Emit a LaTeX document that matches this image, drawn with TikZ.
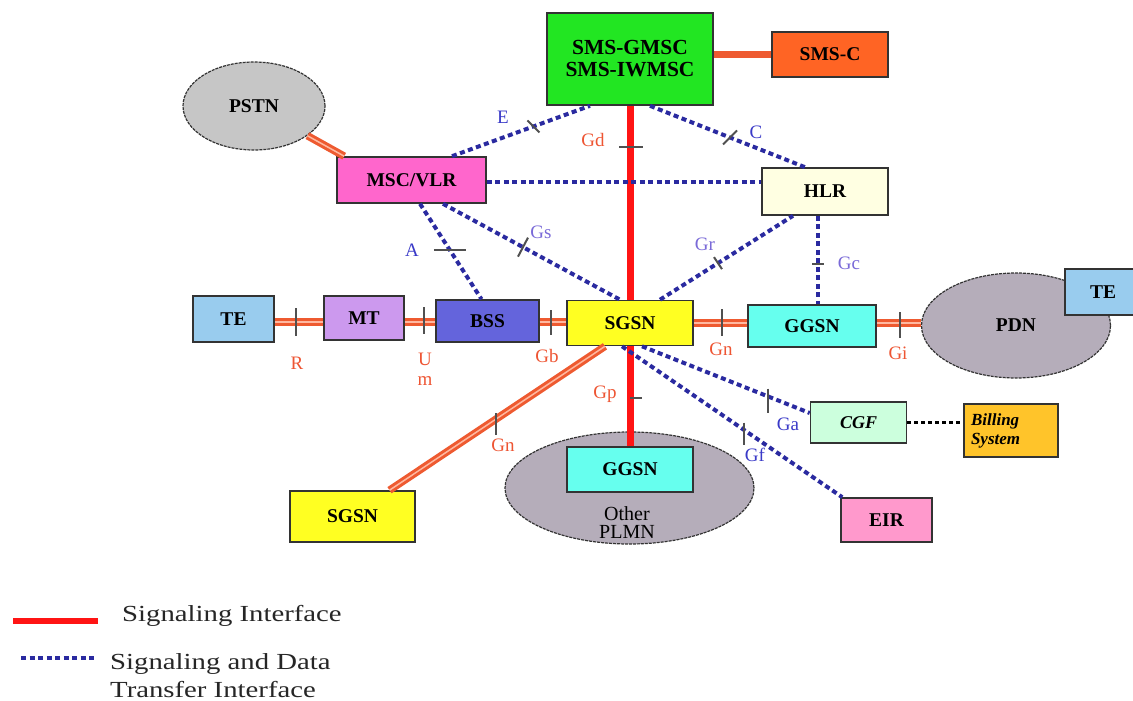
\documentclass[tikz,border=0pt]{standalone}
\usepackage{fontspec}
\setmainfont{Liberation Serif}
\newfontfamily\legendfont[FakeStretch=1.25]{Liberation Serif}
\usetikzlibrary{shapes.geometric,calc}

% fills
\definecolor{cGmsc}{HTML}{22E622}
\definecolor{cSmsc}{HTML}{FF6424}
\definecolor{cPstn}{HTML}{C6C6C6}
\definecolor{cMsc}{HTML}{FF66CC}
\definecolor{cHlr}{HTML}{FFFFE2}
\definecolor{cTe}{HTML}{99CCEE}
\definecolor{cMt}{HTML}{CC99EE}
\definecolor{cBss}{HTML}{6464DC}
\definecolor{cSgsn}{HTML}{FFFF22}
\definecolor{cGgsn}{HTML}{66FFEE}
\definecolor{cNet}{HTML}{B5ADBA}
\definecolor{cCgf}{HTML}{CCFFDD}
\definecolor{cBill}{HTML}{FFC42A}
\definecolor{cEir}{HTML}{FF99CC}
% lines and labels
\definecolor{boxline}{HTML}{333333}
\definecolor{sigor}{HTML}{EE5A30}
\definecolor{sigin}{HTML}{FFB8A0}
\definecolor{sigred}{HTML}{FF1414}
\definecolor{datablue}{HTML}{2A2AA0}
\definecolor{labred}{HTML}{EE5533}
\definecolor{labblue}{HTML}{3A3AC8}
\definecolor{labviolet}{HTML}{7A6AD8}
\definecolor{tickgray}{HTML}{505050}

\tikzset{
  box/.style 2 args={draw=boxline, line width=1.6pt, rectangle,
    minimum width=#1pt, minimum height=#2pt, inner sep=0pt,
    font=\bfseries\fontsize{19.5}{21}\selectfont},
  cloud/.style 2 args={ellipse, draw=boxline, line width=1.2pt,
    dash pattern=on 3pt off 1pt, fill=cNet,
    minimum width=#1pt, minimum height=#2pt, inner sep=0pt,
    font=\bfseries\fontsize{19.5}{21}\selectfont},
  sig/.style={draw=sigor, line width=3pt, double=sigin, double distance=1.5pt},
  smsline/.style={draw=sigor, line width=7pt},
  redsig/.style={draw=sigred, line width=7pt},
  data/.style={draw=datablue, line width=4pt, dash pattern=on 5pt off 3.5pt},
  blackdots/.style={draw=black, line width=2.5pt, dash pattern=on 4pt off 3pt},
  tickline/.style={draw=tickgray, line width=2pt},
  lab/.style={font=\fontsize{19}{21}\selectfont, inner sep=0pt},
  legend/.style={font=\legendfont\fontsize{23}{28}\selectfont, inner sep=0pt,
    anchor=west, align=left, text=black!85},
}

\begin{document}
\begin{tikzpicture}[x=1pt,y=-1pt]
\useasboundingbox (0,0) rectangle (1133,701);
\clip (0,0) rectangle (1133,701);
\fill[white] (0,0) rectangle (1133,701);

% ---- clouds
\node[cloud={142}{88}, fill=cPstn] (pstn) at (254,106) {PSTN};
\node[cloud={189}{105}] (pdn) at (1016,325.5) {PDN};
\node[cloud={249}{112}] (plmn) at (629.5,488) {};
\node[font=\fontsize{20}{18}\selectfont, align=center, inner sep=0pt]
  (plmntext) at (627,523) {Other\\PLMN};

% ---- boxes
\node[box={166}{92}, fill=cGmsc, align=center,
      font=\bfseries\fontsize{21.5}{22}\selectfont] (gmsc) at (630,59)
  {SMS-GMSC\\SMS-IWMSC};
\node[box={116}{45}, fill=cSmsc] (smsc) at (830,54.5) {SMS-C};
\node[box={149}{46}, fill=cMsc] (msc) at (411.5,180) {MSC/VLR};
\node[box={126}{47}, fill=cHlr] (hlr) at (825,191.5) {HLR};
\node[box={81}{46}, fill=cTe] (te1) at (233.5,319) {TE};
\node[box={80}{44}, fill=cMt] (mt) at (364,318) {MT};
\node[box={103}{42}, fill=cBss] (bss) at (487.5,321) {BSS};
\node[box={126}{45}, fill=cSgsn] (sgsn) at (630,323) {SGSN};
\node[box={128}{42}, fill=cGgsn] (ggsn) at (812,326) {GGSN};
\node[box={76}{46}, fill=cTe] (te2) at (1103,292) {TE};
\node[box={96}{41}, fill=cCgf, font=\bfseries\itshape\fontsize{18}{20}\selectfont]
  (cgf) at (858.5,422.5) {CGF};
\node[box={94}{53}, fill=cBill, line width=2pt, draw=black!80,
      text width=80pt, align=left,
      font=\bfseries\itshape\fontsize{17}{19}\selectfont]
  (bill) at (1011,430.5) {Billing\\System};
\node[box={91}{44}, fill=cEir] (eir) at (886.5,520) {EIR};
\node[box={126}{45}, fill=cGgsn] (ggsn2) at (630,469.5) {GGSN};
\node[box={125}{51}, fill=cSgsn] (sgsn2) at (352.5,516.5) {SGSN};

% ---- signaling interfaces
\draw[smsline] (smsc.west -| gmsc.east) -- (smsc.west);
\draw[sig] (pstn) -- ([xshift=8pt]msc.north west);
\draw[redsig] (gmsc.south) -- coordinate[pos=0.215] (tGd) (sgsn.north);
\draw[redsig] (sgsn.south) -- coordinate[pos=0.517] (tGp) (ggsn2.north);
\draw[sig] ([yshift=-3pt]te1.east) -- coordinate[pos=0.43] (tR)
  ([yshift=-3pt]te1.east -| mt.west);
\draw[sig] ([yshift=-4pt]mt.east) -- coordinate[pos=0.62] (tUm)
  ([yshift=-4pt]mt.east -| bss.west);
\draw[sig] ([yshift=-1pt]bss.east) -- coordinate[pos=0.41] (tGb)
  ([yshift=-1pt]bss.east -| sgsn.west);
\draw[sig] ([yshift=3pt]ggsn.west -| sgsn.east) -- coordinate[pos=0.52] (tGn)
  ([yshift=3pt]ggsn.west);
\draw[sig] ([yshift=3pt]ggsn.east) -- coordinate[pos=0.53] (tGi)
  ([yshift=3pt]ggsn.east -| pdn.west);
\draw[sig] ([xshift=-25pt]sgsn.south) -- coordinate[pos=0.506] (tGn2)
  ([xshift=37pt]sgsn2.north);

% ---- signaling and data transfer interfaces
\draw[data] ([xshift=40.5pt]msc.north) -- coordinate[pos=0.59] (tE)
  ([xshift=-40pt]gmsc.south);
\draw[data] ([xshift=20pt]gmsc.south) -- coordinate[pos=0.516] (tC)
  ([xshift=-20pt]hlr.north);
\draw[data] ([yshift=-2pt]msc.east) -- ([yshift=-2pt]msc.east -| hlr.west);
\draw[data] ([xshift=8.5pt]msc.south) -- coordinate[pos=0.485] (tA)
  ([xshift=-6pt]bss.north);
\draw[data] ([xshift=31.5pt]msc.south) -- coordinate[pos=0.452] (tGs)
  ([xshift=-10pt]sgsn.north);
\draw[data] ([xshift=30pt]sgsn.north) -- coordinate[pos=0.436] (tGr)
  ([xshift=-32pt]hlr.south);
\draw[data] ([xshift=-7pt]hlr.south) -- coordinate[pos=0.544] (tGc)
  ([xshift=6pt]ggsn.north);
\draw[data] ([xshift=12pt]sgsn.south) -- coordinate[pos=0.754] (tGa)
  ([yshift=9.5pt]cgf.west);
\draw[data] ([xshift=-8pt]sgsn.south) -- coordinate[pos=0.552] (tGf)
  ([xshift=2pt]eir.north west);
\draw[blackdots] (cgf.east) -- (cgf.east -| bill.west);

% ---- interface ticks
\draw[tickline] ($(tGd)+(-11,0)$) -- ($(tGd)+(13,0)$);
\draw[tickline] (tGp) -- ($(tGp)+(12,0)$);
\draw[tickline] ($(tR)+(0,-14)$) -- ($(tR)+(0,14)$);
\draw[tickline] ($(tUm)+(0,-15)$) -- ($(tUm)+(0,12)$);
\draw[tickline] ($(tGb)+(0,-12)$) -- ($(tGb)+(0,13)$);
\draw[tickline] ($(tGn)+(0,-14)$) -- ($(tGn)+(0,13)$);
\draw[tickline] ($(tGi)+(0,-11)$) -- ($(tGi)+(0,15)$);
\draw[tickline] ($(tGn2)+(0,-6)$) -- ($(tGn2)+(0,16)$);
\draw[tickline] ($(tE)+(-6,-6)$) -- ($(tE)+(6,6)$);
\draw[tickline] ($(tC)+(-7,7)$) -- ($(tC)+(7,-7)$);
\draw[tickline] ($(tA)+(-16,0)$) -- ($(tA)+(16,0)$);
\draw[tickline] ($(tGs)+(-5,9.5)$) -- ($(tGs)+(5,-9.5)$);
\draw[tickline] ($(tGr)+(-4,-6)$) -- ($(tGr)+(4,6)$);
\draw[tickline] ($(tGc)+(-6,0)$) -- ($(tGc)+(6,0)$);
\draw[tickline] ($(tGa)+(0,-8)$) -- ($(tGa)+(0,16)$);
\draw[tickline] ($(tGf)+(0,-7)$) -- ($(tGf)+(0,15)$);

% ---- interface labels
\node[lab, text=labred] (lGd) at (593,140) {Gd};
\node[lab, text=labred] (lGp) at (605,394) {Gp};
\node[lab, text=labred] (lR) at (297,363) {R};
\node[lab, text=labred, align=center, font=\fontsize{19}{20}\selectfont]
  (lUm) at (425,369) {U\\m};
\node[lab, text=labred] (lGb) at (547,356) {Gb};
\node[lab, text=labred] (lGn) at (721,349) {Gn};
\node[lab, text=labred] (lGi) at (898,353) {Gi};
\node[lab, text=labred] (lGn2) at (503,445) {Gn};
\node[lab, text=labblue] (lE) at (503,117) {E};
\node[lab, text=labblue] (lC) at (756,132) {C};
\node[lab, text=labblue] (lA) at (412,250) {A};
\node[lab, text=labviolet] (lGs) at (541,232) {Gs};
\node[lab, text=labviolet] (lGr) at (705,244) {Gr};
\node[lab, text=labviolet] (lGc) at (849,263) {Gc};
\node[lab, text=labblue] (lGa) at (788,424) {Ga};
\node[lab, text=labblue] (lGf) at (755,455) {Gf};

% ---- legend
\coordinate (keyA1) at (13,621);
\coordinate (keyA2) at (98,621);
\coordinate (keyB1) at (21,658);
\coordinate (keyB2) at (97,658);
\draw[draw=sigred, line width=6pt] (keyA1) -- (keyA2);
\draw[data] (keyB1) -- (keyB2);
\node[legend] (keyAtext) at (122,616) {Signaling Interface};
\node[legend] (keyBtext) at (110,676) {Signaling and Data\\Transfer Interface};
\end{tikzpicture}
\end{document}
